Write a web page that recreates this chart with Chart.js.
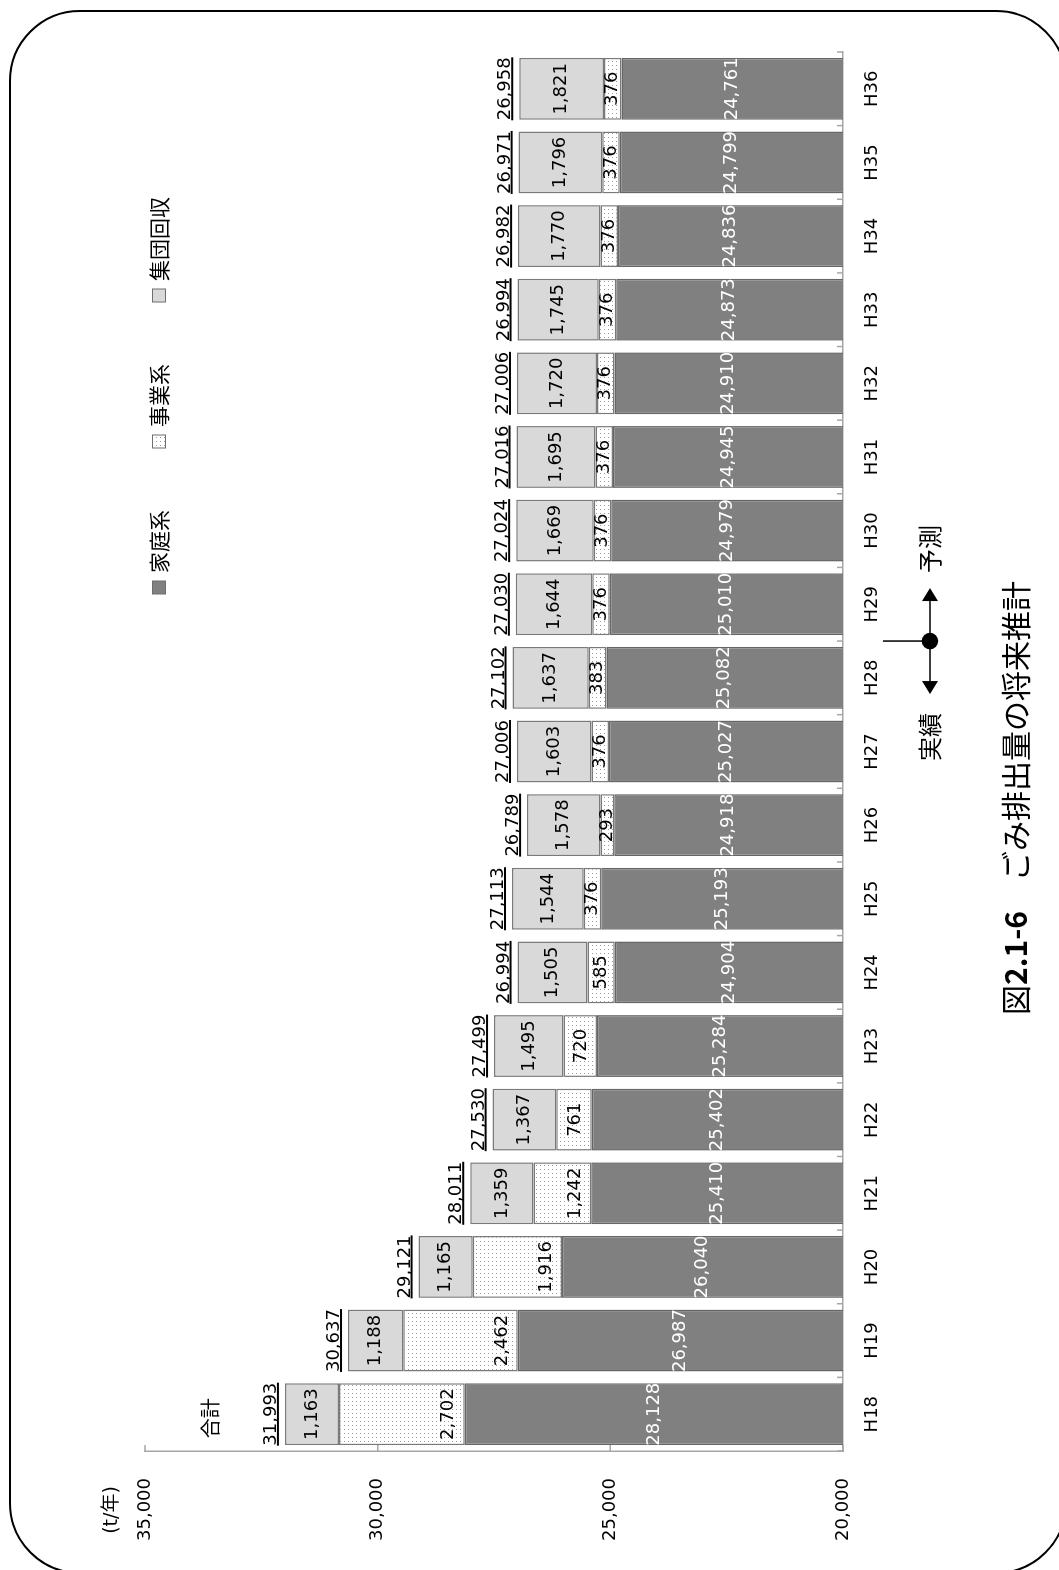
<!DOCTYPE html>
<html>
<head>
<meta charset="utf-8">
<script src="https://cdn.jsdelivr.net/npm/chart.js@4.4.1/dist/chart.umd.min.js"></script>
<style>
html, body { margin: 0; padding: 0; background: #fff; overflow: hidden; }
body { width: 1059px; height: 1570px; position: relative; }
#frame { position: absolute; left: 9px; top: 10px; width: 1058px; height: 1564px; box-sizing: border-box; border: 2px solid #000; border-radius: 71px; }
#wrap { position: absolute; left: 0; top: 0; width: 1570px; height: 1059px; transform-origin: 0 0; transform: translateY(1570px) rotate(-90deg); }
</style>
</head>
<body>
<div id="frame"></div>
<div id="wrap"><canvas id="gomichart" width="1570" height="1059" style="width:1570px;height:1059px"></canvas></div>
<script>
// ごみ排出量 (t/年)
var years  = ['H18','H19','H20','H21','H22','H23','H24','H25','H26','H27','H28','H29','H30','H31','H32','H33','H34','H35','H36'];
var katei  = [28128, 26987, 26040, 25410, 25402, 25284, 24904, 25193, 24918, 25027, 25082, 25010, 24979, 24945, 24910, 24873, 24836, 24799, 24761];
var jigyo  = [2702, 2462, 1916, 1242, 761, 720, 585, 376, 293, 376, 383, 376, 376, 376, 376, 376, 376, 376, 376];
var shudan = [1163, 1188, 1165, 1359, 1367, 1495, 1505, 1544, 1578, 1603, 1637, 1644, 1669, 1695, 1720, 1745, 1770, 1796, 1821];
var totals = [31993, 30637, 29121, 28011, 27530, 27499, 26994, 27113, 26789, 27006, 27102, 27030, 27024, 27016, 27006, 26994, 26982, 26971, 26958];
var seriesNames = ['家庭系', '事業系', '集団回収'];

var NUM = '"DejaVu Sans", "Noto Sans CJK JP", sans-serif';
var JP = '"Noto Sans CJK JP", sans-serif';
Chart.defaults.font.family = NUM;
Chart.defaults.color = '#000';

var canvas = document.getElementById('gomichart');
var ctx = canvas.getContext('2d');

// 事業系の点々模様
var tile = document.createElement('canvas');
tile.width = 4; tile.height = 4;
var t = tile.getContext('2d');
t.fillStyle = '#fff'; t.fillRect(0, 0, 4, 4);
t.fillStyle = '#9a9a9a'; t.fillRect(0, 0, 1, 1);
var dots = ctx.createPattern(tile, 'repeat');

var fills = ['#808080', dots, '#d9d9d9'];

function fmt(v) { return v.toLocaleString('en-US'); }

var labelPlugin = {
	id: 'barLabels',
	afterDatasetsDraw: function(chart) {
		var c = chart.ctx, area = chart.chartArea;
		c.save();
		c.font = '18px ' + NUM;
		c.textAlign = 'center';
		c.textBaseline = 'middle';
		chart.data.datasets.forEach(function(ds, i) {
			chart.getDatasetMeta(i).data.forEach(function(bar, j) {
				var base = Math.min(bar.base, area.bottom);
				var y = (bar.y + base) / 2;
				if (i === 1) y = Math.max(base - 16, y);
				c.fillStyle = i === 0 ? '#fff' : '#000';
				c.fillText(fmt(ds.data[j]), bar.x, y);
			});
		});
		// 合計 (underlined)
		var top = chart.getDatasetMeta(2).data;
		c.fillStyle = '#000';
		c.textBaseline = 'alphabetic';
		totals.forEach(function(v, j) {
			var s = fmt(v), w = c.measureText(s).width;
			c.fillText(s, top[j].x, top[j].y - 9);
			c.fillRect(top[j].x - w / 2, top[j].y - 8, w, 2);
		});
		c.restore();
	}
};

var extrasPlugin = {
	id: 'extras',
	afterDraw: function(chart) {
		var c = chart.ctx, a = chart.chartArea, xs = chart.scales.x, ys = chart.scales.y;
		c.save();

		// inside tick marks
		c.strokeStyle = '#a6a6a6';
		c.lineWidth = 1.5;
		c.beginPath();
		for (var k = 0; k <= years.length; k++) {
			var px = xs.getPixelForValue(k - 0.5);
			c.moveTo(px, a.bottom); c.lineTo(px, a.bottom - 6);
		}
		ys.ticks.forEach(function(tk) {
			var py = ys.getPixelForValue(tk.value);
			c.moveTo(a.left, py); c.lineTo(a.left + 6, py);
		});
		c.stroke();

		// unit and 合計
		c.fillStyle = '#000';
		c.textAlign = 'center';
		c.textBaseline = 'middle';
		c.font = '19px ' + NUM;
		c.fillText('(t/年)', 60, 112);
		c.font = '20px ' + JP;
		c.fillText('合計', chart.getDatasetMeta(0).data[0].x - 4, 210);

		// legend
		var lx = 976, ly = 159;
		c.textAlign = 'left';
		c.font = '21px ' + JP;
		seriesNames.forEach(function(name, i) {
			c.fillStyle = fills[i];
			c.fillRect(lx, ly - 6.5, 13, 13);
			c.strokeStyle = '#6e6e6e';
			c.lineWidth = 1;
			c.strokeRect(lx, ly - 6.5, 13, 13);
			c.fillStyle = '#000';
			c.fillText(name, lx + 21, ly);
			lx += 21 + c.measureText(name).width + 62;
		});

		// 実績 / 予測 marker between H28 and H29
		var mx = xs.getPixelForValue(10.5), my = 930;
		c.strokeStyle = '#000';
		c.fillStyle = '#000';
		c.lineWidth = 1.5;
		c.beginPath();
		c.moveTo(mx, 883); c.lineTo(mx, my);
		c.moveTo(mx - 40, my); c.lineTo(mx + 40, my);
		c.stroke();
		c.beginPath(); c.arc(mx, my, 8.3, 0, Math.PI * 2); c.fill();
		c.beginPath();
		c.moveTo(mx - 53, my); c.lineTo(mx - 40, my - 8); c.lineTo(mx - 40, my + 8); c.closePath();
		c.moveTo(mx + 53, my); c.lineTo(mx + 40, my - 8); c.lineTo(mx + 40, my + 8); c.closePath();
		c.fill();
		c.textAlign = 'center';
		c.font = '24px ' + JP;
		c.fillText('実績', mx - 96, my);
		c.fillText('予測', mx + 92, my);

		// title
		var parts = [
			['図', '30px ' + JP],
			['2.1-6', 'bold 30px ' + JP],
			['\u3000ごみ排出量の将来推計', '30px ' + JP]
		];
		var total = 0;
		parts.forEach(function(p) { c.font = p[1]; p.push(c.measureText(p[0]).width); total += p[2]; });
		var tx = 772 - total / 2;
		c.textAlign = 'left';
		parts.forEach(function(p) { c.font = p[1]; c.fillText(p[0], tx, 1016); tx += p[2]; });

		c.restore();
	}
};

new Chart(ctx, {
	type: 'bar',
	data: {
		labels: years,
		datasets: [
			{ label: seriesNames[0], data: katei,  backgroundColor: fills[0], borderColor: '#666666', borderWidth: 1.5, borderSkipped: false },
			{ label: seriesNames[1], data: jigyo,  backgroundColor: fills[1], borderColor: '#7a7a7a', borderWidth: 1.5, borderSkipped: false },
			{ label: seriesNames[2], data: shudan, backgroundColor: fills[2], borderColor: '#7a7a7a', borderWidth: 1.5, borderSkipped: false }
		]
	},
	options: {
		responsive: false,
		devicePixelRatio: 1,
		animation: false,
		layout: { padding: { left: 0, right: 52, top: 145, bottom: 0 } },
		datasets: { bar: { categoryPercentage: 1, barPercentage: 0.84 } },
		plugins: {
			legend: { display: false },
			title: { display: false },
			tooltip: { enabled: false }
		},
		scales: {
			x: {
				stacked: true,
				grid: { display: false, drawTicks: false },
				border: { display: true, color: '#a6a6a6', width: 1.5 },
				ticks: { padding: 19, font: { size: 18 }, color: '#000' },
				afterFit: function(s) { s.height = 216; }
			},
			y: {
				stacked: true,
				min: 20000,
				max: 35000,
				grid: { display: false, drawTicks: false },
				border: { display: true, color: '#a6a6a6', width: 1.5 },
				ticks: { stepSize: 5000, padding: 27, font: { size: 18 }, color: '#000', callback: function(v) { return fmt(v); } },
				afterFit: function(s) { s.width = 119; }
			}
		}
	},
	plugins: [labelPlugin, extrasPlugin]
});
</script>
</body>
</html>
